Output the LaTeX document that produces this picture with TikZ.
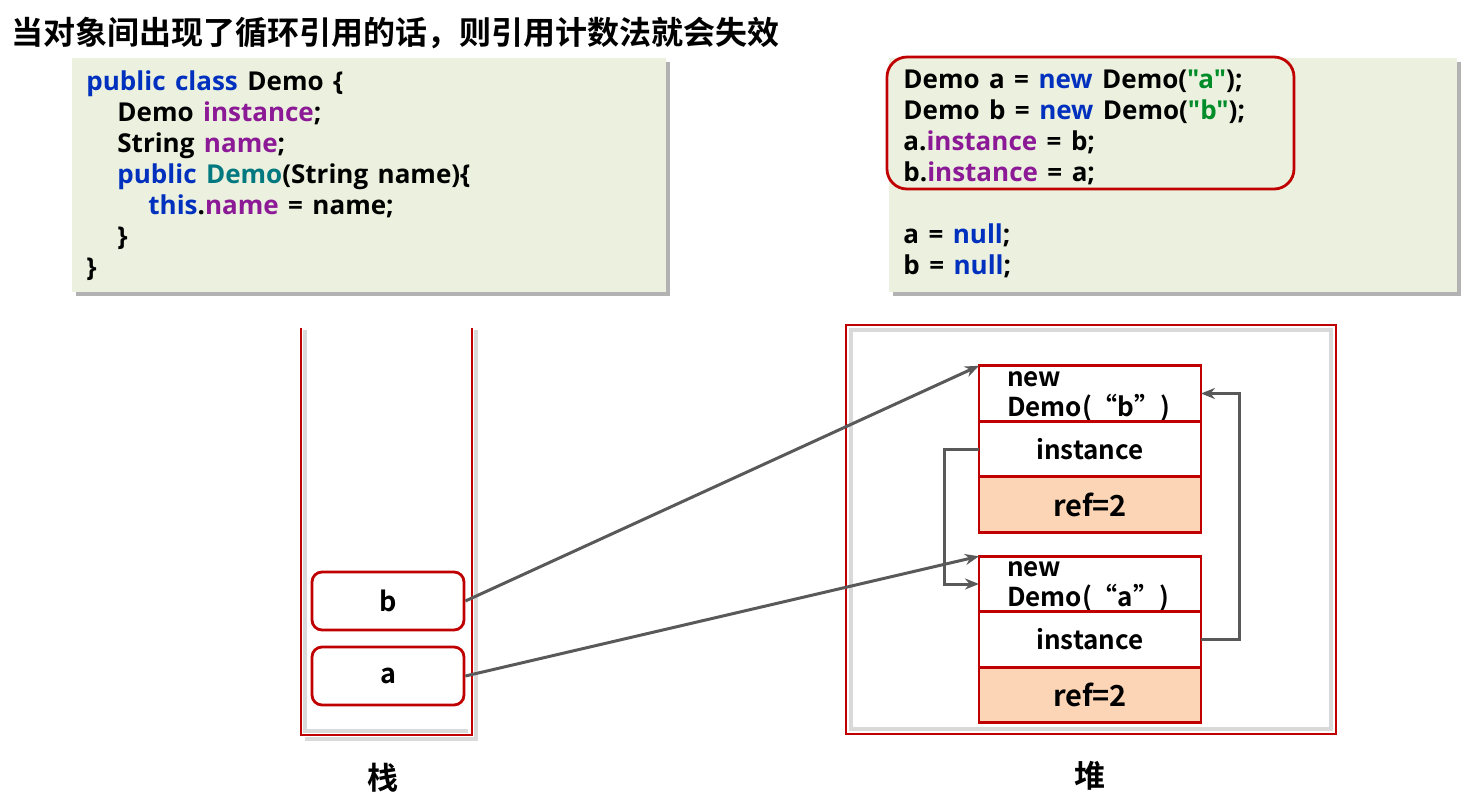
\documentclass[tikz,border=0pt]{standalone}
\usepackage{fontspec}
\setmainfont{Noto Sans CJK SC}[BoldFont={Noto Sans CJK SC Bold}]
\newfontfamily\codefont{Open Sans Bold}[WordSpace=1.4]
\usepackage{tikz}
\usepackage{xcolor}
\usetikzlibrary{positioning, arrows.meta, calc}
\definecolor{frameRed}{RGB}{192,0,0}
\definecolor{codeBg}{RGB}{235,241,222}
\definecolor{refFill}{RGB}{251,213,181}
\definecolor{ptrGray}{RGB}{89,89,89}
\definecolor{kwBlue}{RGB}{0,48,190}
\definecolor{fldPurple}{RGB}{140,26,150}
\definecolor{ctorTeal}{RGB}{0,120,128}
\definecolor{litGreen}{RGB}{0,140,40}
\newcommand{\kw}[1]{\textcolor{kwBlue}{#1}}
\newcommand{\fld}[1]{\textcolor{fldPurple}{#1}}
\newcommand{\ctor}[1]{\textcolor{ctorTeal}{#1}}
\newcommand{\lit}[1]{\textcolor{litGreen}{\symbol{34}#1\symbol{34}}}
\newcommand{\ind}{\hspace*{15.5pt}}

\begin{document}
\begin{tikzpicture}[
  x=0.5pt, y=-0.5pt,
  codetext/.style={anchor=north west, align=left, inner sep=0pt,
                   font=\codefont\fontsize{13}{15.5}\selectfont},
  var/.style={draw=frameRed, line width=1.4pt, rounded corners=5pt, fill=white,
              minimum width=76pt, minimum height=29pt, inner sep=0pt,
              font=\bfseries\fontsize{13.5}{13.5}\selectfont},
  cell/.style={draw=frameRed, line width=1.4pt, fill=white, minimum width=111pt,
               minimum height=27.75pt, inner sep=0pt, outer sep=0pt,
               font=\bfseries\fontsize{13}{13}\selectfont},
  refcell/.style={cell, fill=refFill, font=\bfseries\fontsize{14.5}{14.5}\selectfont},
  headtext/.style={text width=83pt, align=left, inner sep=0pt,
                   font=\bfseries\fontsize{13}{15}\selectfont},
  area/.style={font=\bfseries\fontsize{15.5}{15.5}\selectfont},
  ptr/.style={draw=ptrGray, line width=1.5pt, -{Stealth[length=7pt, width=5.5pt]}},
  shade/.style={draw=black!15, line width=2pt},
]
  \useasboundingbox (0,0) rectangle (1468,799);

  % title
  \node[anchor=west, inner sep=0pt, font=\bfseries\fontsize{16}{16}\selectfont]
    (title) at (11,33) {当对象间出现了循环引用的话，则引用计数法就会失效};

  % code boxes
  \fill[black!30] (76,62) rectangle (670,296);
  \fill[codeBg] (72,58) rectangle (666,292);
  \node[codetext] (classCode) at (86,70) {%
    \kw{public class} Demo \{\\
    \ind Demo \fld{instance};\\
    \ind String \fld{name};\\
    \ind\kw{public} \ctor{Demo}(String name)\{\\
    \ind\ind\kw{this}.\fld{name} = name;\\
    \ind\}\\
    \}};

  \fill[black!30] (893,62) rectangle (1461,296);
  \fill[codeBg] (889,58) rectangle (1457,292);
  \node[codetext] (mainCode) at (903,70) {%
    Demo a = \kw{new} Demo(\lit{a});\\
    Demo b = \kw{new} Demo(\lit{b});\\
    a.\fld{instance} = b;\\
    b.\fld{instance} = a;\\[15.5pt]
    a = \kw{null};\\
    b = \kw{null};};
  \draw[frameRed, line width=1.4pt, rounded corners=10pt] (887,57) rectangle (1294,189);

  % stack
  \draw[shade] (305,330) -- (305,731) -- (468,731) (476,330) -- (476,739) -- (305,739);
  \draw[frameRed, line width=1.4pt] (301,328) |- (472,735) -- (472,328);
  \node[var] (varB) at (388,601) {b};
  \node[var] (varA) at (388,676) {a};
  \node[area] (stackLbl) at (383,778) {栈};

  % heap
  \draw[shade] (851,330) rectangle (1331,729);
  \draw[frameRed, line width=1.4pt] (846,325) rectangle (1336,734);
  \node[area] (heapLbl) at (1090,776) {堆};

  \node[cell] (objB) at (1090,393.5) {};
  \node[headtext] at ($(objB)+(0,3)$) {new\\Demo(“b”)};
  \node[cell, below=0pt of objB] (instB) {instance};
  \node[refcell, below=0pt of instB] (refB) {ref=2};

  \node[cell] (objA) at (1090,584) {};
  \node[headtext] at ($(objA)+(0,3)$) {new\\Demo(“a”)};
  \node[cell, below=0pt of objA] (instA) {instance};
  \node[refcell, below=0pt of instA] (refA) {ref=2};

  % references
  \draw[ptr] (varB.east) -- (objB.north west);
  \draw[ptr] (varA.east) -- (objA.north west);
  \draw[ptr] (instB.west) -- ++(-35,0) |- (objA.west);
  \draw[ptr] (instA.east) -- ++(38,0) |- (objB.east);
\end{tikzpicture}
\end{document}
